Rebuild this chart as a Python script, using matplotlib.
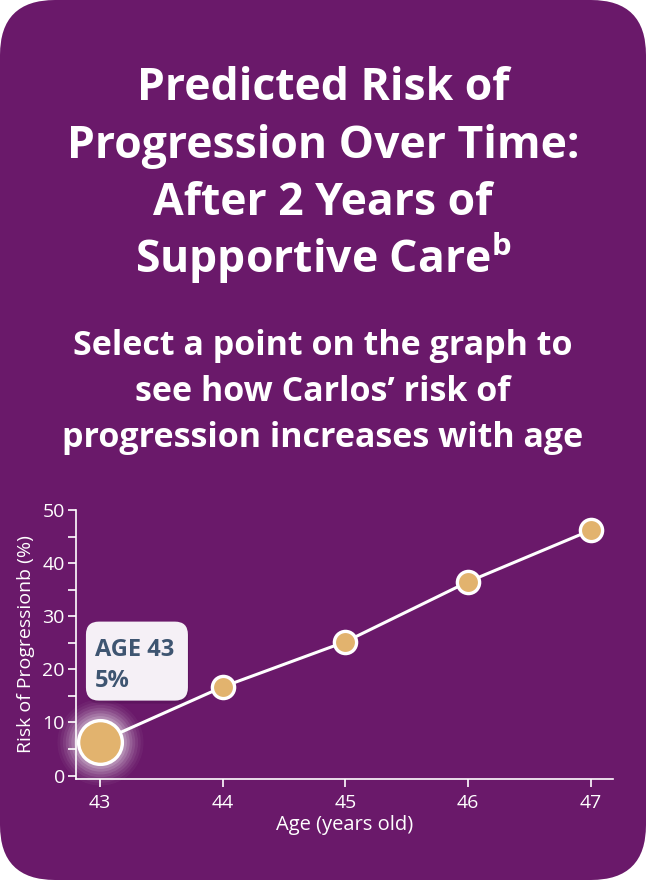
import matplotlib.pyplot as plt
import matplotlib.transforms as mtransforms
from matplotlib.patches import FancyBboxPatch
from matplotlib.ticker import MultipleLocator

# ====== DATA ======
ages = [43, 44, 45, 46, 47]
risk = [6.4, 16.7, 25.2, 36.5, 46.2]
x_ticks = [43, 44, 45, 46, 47]
y_ticks = [0, 10, 20, 30, 40, 50]
selected = 0  # index of the highlighted point
tooltip_lines = ["AGE 43", "5%"]

title_lines = ["Predicted Risk of", "Progression Over Time:",
               "After 2 Years of", r"Supportive Care$^{\mathbf{b}}$"]
subtitle_lines = ["Select a point on the graph to",
                  "see how Carlos\u2019 risk of",
                  "progression increases with age"]
x_label = "Age (years old)"
y_label = "Risk of Progressionb (%)"

# ====== STYLE ======
PURPLE = "#6A196A"
GOLD = "#E2B36E"
WHITE = "#FFFFFF"
TIP_BG = "#F5F0F6"
TIP_TEXT = "#3E5571"
FONT = "Open Sans"

plt.rcParams["font.family"] = FONT
plt.rcParams["mathtext.fontset"] = "custom"
plt.rcParams["mathtext.rm"] = "Open Sans:bold"
plt.rcParams["mathtext.bf"] = "Open Sans:bold"

W, H = 646, 880
fig = plt.figure(figsize=(W / 100, H / 100), dpi=100, facecolor="white")

# rounded purple card
card = FancyBboxPatch((0, 0), W, H, boxstyle="round,pad=0,rounding_size=55",
                      transform=mtransforms.IdentityTransform(),
                      facecolor=PURPLE, edgecolor="none", zorder=-5)
fig.patches.append(card)

# title (baselines in pixels from top)
for i, line in enumerate(title_lines):
    fig.text(0.5, 1 - (100 + i * 57.7) / H, line, ha="center", va="baseline",
             color=WHITE, fontsize=32, fontweight="bold")

for i, line in enumerate(subtitle_lines):
    fig.text(0.5, 1 - (355 + i * 46) / H, line, ha="center", va="baseline",
             color=WHITE, fontsize=24.5, fontweight="bold")

# chart area
ax_left, ax_right, ax_top, ax_bottom = 76, 613, 510, 779
ax = fig.add_axes([ax_left / W, 1 - ax_bottom / H,
                   (ax_right - ax_left) / W, (ax_bottom - ax_top) / H])
ax.set_facecolor("none")
ax.set_xlim(42.805, 47.18)
ax.set_ylim(-0.64, 50)

for side in ["top", "right"]:
    ax.spines[side].set_visible(False)
for side in ["left", "bottom"]:
    ax.spines[side].set_color(WHITE)
    ax.spines[side].set_linewidth(1.2)

ax.set_xticks(x_ticks)
ax.set_yticks(y_ticks)
ax.yaxis.set_minor_locator(MultipleLocator(5))
ax.tick_params(axis="both", which="both", colors=WHITE, length=6, width=1.2,
               labelsize=14, labelcolor=WHITE)
ax.tick_params(axis="y", pad=2)
ax.tick_params(axis="x", pad=5)
ax.set_xlabel(x_label, color=WHITE, fontsize=14.5, labelpad=2)
ax.set_ylabel(y_label, color=WHITE, fontsize=14, labelpad=5)

# glow around the selected point
for r, a in zip(range(62, 30, -4), [0.04, 0.05, 0.07, 0.09, 0.11, 0.14, 0.17, 0.2]):
    ax.plot(ages[selected], risk[selected], "o", ms=r, color=WHITE, alpha=a,
            markeredgewidth=0, zorder=1, clip_on=False)

ax.plot(ages, risk, "-", color=WHITE, lw=2.2, zorder=2)
others = [i for i in range(len(ages)) if i != selected]
ax.plot([ages[i] for i in others], [risk[i] for i in others], "o", ms=16,
        markerfacecolor=GOLD, markeredgecolor=WHITE, markeredgewidth=2.4,
        linestyle="none", zorder=3, clip_on=False)
ax.plot(ages[selected], risk[selected], "o", ms=31.5,
        markerfacecolor=GOLD, markeredgecolor=WHITE, markeredgewidth=2.4,
        zorder=4, clip_on=False)

# tooltip, positioned in pixels relative to the selected point
tip_trans = mtransforms.Affine2D() + mtransforms.ScaledTranslation(
    ages[selected], risk[selected], ax.transData)
shadow = FancyBboxPatch((-13, 38), 102, 79, boxstyle="round,pad=0,rounding_size=13",
                        transform=tip_trans, facecolor="#2a0030", alpha=0.18,
                        edgecolor="none", zorder=5, clip_on=False)
box = FancyBboxPatch((-14, 41), 102, 79, boxstyle="round,pad=0,rounding_size=13",
                     transform=tip_trans, facecolor=TIP_BG, edgecolor="none",
                     zorder=6, clip_on=False)
ax.add_patch(shadow)
ax.add_patch(box)
for i, line in enumerate(tooltip_lines):
    ax.text(-5, 86 - i * 31, line, transform=tip_trans, ha="left", va="baseline",
            color=TIP_TEXT, fontsize=17, fontweight="bold", zorder=7,
            clip_on=False)

fig.savefig("out.png", dpi=100, facecolor="white")
